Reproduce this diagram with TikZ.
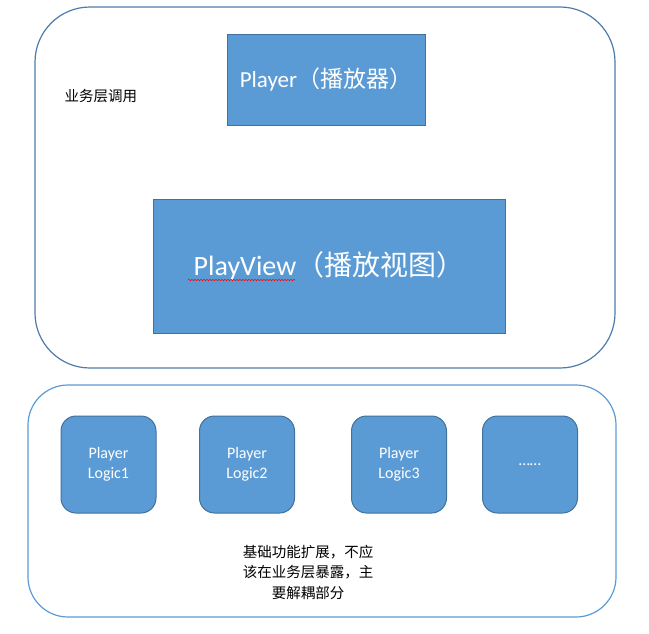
\documentclass[tikz,border=0pt]{standalone}
\usepackage{fontspec}
\setmainfont{Carlito}
\newfontfamily\cjk{Noto Sans CJK SC}
\usetikzlibrary{positioning,calc,decorations.pathmorphing}
\definecolor{boxfill}{HTML}{5B9BD5}
\definecolor{boxline}{HTML}{41719C}
\definecolor{frameline}{HTML}{4F7BAA}
\tikzset{
    %Define style for the two large frames
    layer/.style={
           rectangle,
           draw=frameline, line width=1.2pt,
           fill=white},
    %Define style for the square boxes
    blockbox/.style={
           rectangle,
           draw=boxline, line width=1pt,
           fill=boxfill,
           text=white,
           inner sep=0pt},
    logicbox/.style={
           rectangle,
           rounded corners=15pt,
           draw=boxline, line width=1pt,
           fill=boxfill,
           text=white,
           minimum width=95pt,
           minimum height=97pt,
           align=center,
           font=\fontsize{16}{20}\selectfont},
    note/.style={
           align=center,
           font=\cjk\fontsize{14.5}{20.5}\selectfont}
}

\begin{document}
\begin{tikzpicture}[x=1pt,y=-1pt]
\useasboundingbox (0,0) rectangle (649,633);
 %frames
\node[layer, rounded corners=55pt, minimum width=580pt, minimum height=361pt](call) at (325,187.5){};
\node[layer, draw=boxfill, rounded corners=40pt, minimum width=588pt, minimum height=232pt](ext) at (322,501){};
 %upper layer
\node[note, anchor=west](calltxt) at (61,96){业务层调用};
\node[blockbox, minimum width=198pt, minimum height=91pt,
      font=\fontsize{23}{26}\selectfont](player) at (326,79.5){Player{\cjk （播放器）}};
\node[blockbox, minimum width=352pt, minimum height=134pt,
      font=\fontsize{28}{32}\selectfont](view) at (329,266){PlayView{\cjk （播放视图）}};
\draw[red, line width=0.5pt, decorate,
      decoration={snake, amplitude=0.7pt, segment length=3pt}]
   ($(view.center)+(-141,14)$) -- ($(view.center)+(-34,14)$);
 %lower layer
\node[logicbox](logic1) at (108.5,464.5){Player\\Logic1};
\node[logicbox](logic2) at (247,464.5){Player\\Logic2};
\node[logicbox](logic3) at (399,464.5){Player\\Logic3};
\node[logicbox](more) at (530,464.5){……};
\node[note](exttxt) at (308,572){基础功能扩展，不应\\该在业务层暴露，主\\要解耦部分};
\end{tikzpicture}
\end{document}
